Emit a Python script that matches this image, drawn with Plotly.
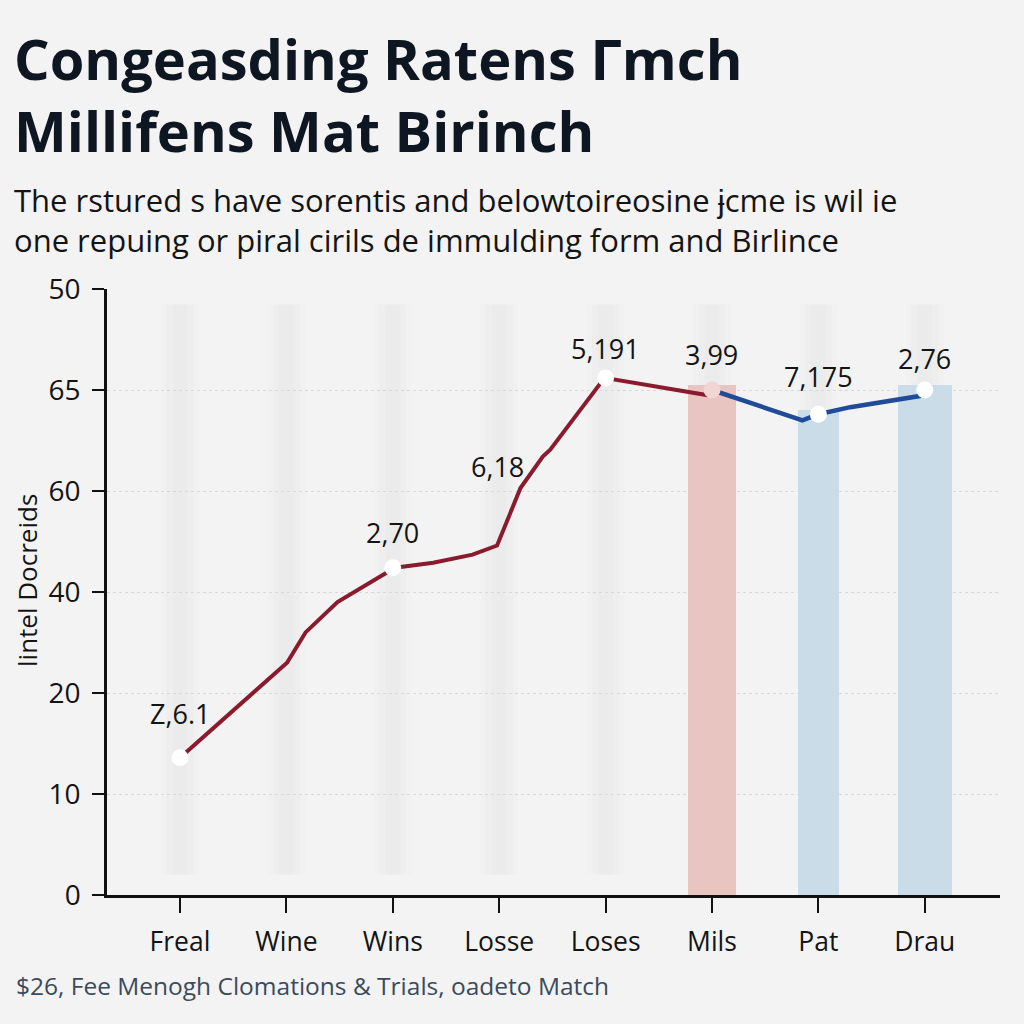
import plotly.graph_objects as go

# ---------------- data ----------------
categories = ["Freal", "Wine", "Wins", "Losse", "Loses", "Mils", "Pat", "Drau"]
y_tick_text = ["0", "10", "20", "40", "60", "65", "50"]

# red line (category-index positions, values on the 0-6 tick scale)
red_x = [0.0, 1.006, 1.18, 1.48, 2.02, 2.38, 2.75, 2.98, 3.20, 3.41, 3.48, 3.99, 4.95, 5.0]
red_y = [1.36, 2.30, 2.60, 2.90, 3.24, 3.29, 3.37, 3.46, 4.03, 4.34, 4.41, 5.12, 4.95, 5.0]
# blue line
blue_x = [5.0, 5.57, 5.85, 6.0, 6.30, 6.95, 7.0]
blue_y = [5.0, 4.80, 4.70, 4.76, 4.83, 4.94, 5.0]

# highlighted points
point_x = [0, 2, 4, 5, 6, 7]
point_y = [1.36, 3.24, 5.12, 5.0, 4.76, 5.0]

# bars
bar_x = [5, 6, 7]
bar_y = [5.05, 4.80, 5.05]

# data labels
label_text = ["Ζ,6.1", "2,70", "6,18", "5,191", "3,99", "7,175", "2,76"]
label_x = [0, 2, 2.98, 4, 5, 6, 7]
label_y = [1.36, 3.24, 3.46, 5.12, 5.0, 4.76, 5.0]

title_lines = ["Congeasding Ratens Гmch", "Millifens Mat Birinch"]
subtitle = ("The rstured s have sorentis and belowtoireosine ɉcme is wil ie<br>"
            "one repuing or piral cirils de immulding form and Birlince")
caption = "$26, Fee Menogh Clomations & Trials, oadeto Match"
y_title = "lintel Docreids"

# ---------------- style ----------------
FONT = "Open Sans, Roboto, sans-serif"
BG = "#f3f3f3"
RED = "#8a1a2e"
BLUE = "#1f4b99"
label_shift = [44, 35, 79, 29, 36, 38, 32]
bar_width = [0.45, 0.38, 0.51]
bar_colors = ["#e8c5c0", "#c9dce8", "#c9dce8"]

W, H = 1024, 1024
L, R, T, B = 107, 24, 289, 129
pw, ph = W - L - R, H - T - B


def px(x):
    return (x - L) / pw


def py(y):
    return (H - B - y) / ph


fig = go.Figure()

# faint blurred background stripes
shapes = []
for i in range(len(categories)):
    for w, a in [(0.36, 0.008), (0.26, 0.01), (0.14, 0.012)]:
        shapes.append(dict(type="rect", xref="x", yref="y", x0=i - w / 2, x1=i + w / 2,
                           y0=0.2, y1=5.85, fillcolor=f"rgba(0,0,0,{a})", line_width=0,
                           layer="below"))

fig.add_trace(go.Bar(x=bar_x, y=bar_y, width=bar_width, marker=dict(color=bar_colors, line_width=0),
                     showlegend=False, hoverinfo="skip"))
fig.add_trace(go.Scatter(x=red_x, y=red_y, mode="lines", line=dict(color=RED, width=4),
                         showlegend=False))
fig.add_trace(go.Scatter(x=blue_x, y=blue_y, mode="lines", line=dict(color=BLUE, width=4.5),
                         showlegend=False))
fig.add_trace(go.Scatter(x=point_x, y=point_y, mode="markers",
                         marker=dict(size=17, color=["white", "white", "white", "#f2d6d3", "white", "white"],
                                     line=dict(width=0)),
                         showlegend=False))

annotations = []
for t, x, y, s in zip(label_text, label_x, label_y, label_shift):
    annotations.append(dict(x=x, y=y, xref="x", yref="y", text=t, showarrow=False,
                            yshift=s, font=dict(size=27, color="#141414", family=FONT)))

annotations.append(dict(x=px(27), y=py(581), xref="paper", yref="paper", text=y_title,
                        xanchor="center", yanchor="middle",
                        showarrow=False, textangle=-90, font=dict(size=26, color="#141414", family=FONT)))

for line, yc in zip(title_lines, [55, 127]):
    annotations.append(dict(xref="paper", yref="paper", x=px(12), y=py(yc + 3), xanchor="left",
                            yanchor="middle", text=f"<b>{line}</b>", showarrow=False,
                            font=dict(size=56, color="#0e1621", family=FONT)))

annotations.append(dict(xref="paper", yref="paper", x=px(12), y=py(220), xanchor="left", yanchor="middle",
                        text=subtitle, align="left", showarrow=False,
                        font=dict(size=31, color="#141414", family=FONT)))
annotations.append(dict(xref="paper", yref="paper", x=px(14), y=py(985), xanchor="left", yanchor="middle",
                        text=caption, showarrow=False,
                        font=dict(size=24.5, color="#3b4b5c", family=FONT)))

fig.update_layout(
    width=W, height=H,
    paper_bgcolor=BG, plot_bgcolor=BG,
    margin=dict(l=L, r=R, t=T, b=B),
    shapes=shapes,
    bargap=0,
    annotations=annotations,
    xaxis=dict(range=[-0.686, 7.707], tickmode="array", tickvals=list(range(len(categories))),
               ticktext=categories, showgrid=False, zeroline=False,
               showline=True, linecolor="#111", linewidth=2.5,
               ticks="outside", ticklen=15, tickwidth=1.5, tickcolor="#111",
               ticklabelstandoff=6,
               tickfont=dict(size=26.5, color="#141414", family=FONT)),
    yaxis=dict(range=[0, 6], tickmode="array", tickvals=list(range(7)), ticktext=y_tick_text,
               showgrid=True, gridcolor="#d9d9d9", griddash="dot", gridwidth=1,
               zeroline=False, showline=True, linecolor="#111", linewidth=2.5,
               ticks="outside", ticklen=12, tickwidth=1.5, tickcolor="#111",
               ticklabelstandoff=6,
               tickfont=dict(size=28, color="#141414", family=FONT)),
    font=dict(family=FONT),
)

fig.write_html(
    "out.html",
    config={"displayModeBar": False},
    post_script="document.body.style.margin='0';document.body.style.background='#f3f3f3';"
                "document.documentElement.style.overflow='hidden';",
)
